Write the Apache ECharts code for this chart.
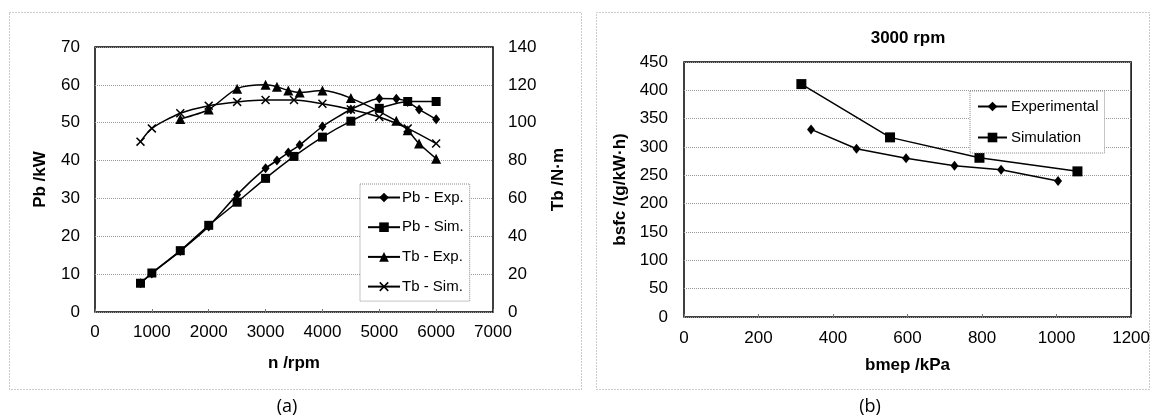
<!DOCTYPE html>
<html>
<head>
<meta charset="utf-8">
<script src="https://cdn.jsdelivr.net/npm/echarts@6/dist/echarts.min.js"></script>
<style>
  html, body { margin: 0; padding: 0; background: #fff; }
  #chart { width: 1153px; height: 418px; }
</style>
</head>
<body>
<div id="chart"></div>
<script>
// (a) 转速特性
const rpmPbExp = [800, 1000, 1500, 2000, 2500, 3000, 3200, 3400, 3600, 4000, 4500, 5000, 5300, 5500, 5700, 6000]
const pbExp = [7.6, 10.2, 16.1, 22.6, 31, 38, 40, 42.1, 44.1, 49, 53.5, 56.4, 56.3, 55.5, 53.5, 50.9]
const rpmPbSim = [800, 1000, 1500, 2000, 2500, 3000, 3500, 4000, 4500, 5000, 5500, 6000]
const pbSim = [7.6, 10.3, 16.2, 22.9, 29, 35.3, 41.1, 46.2, 50.4, 53.8, 55.6, 55.6]
const rpmTbExp = [1500, 2000, 2500, 3000, 3200, 3400, 3600, 4000, 4500, 5300, 5500, 5700, 6000]
const tbExp = [102, 107, 118, 120, 119, 117, 116, 117, 113, 101, 96, 89, 81]
const rpmTbSim = [800, 1000, 1500, 2000, 2500, 3000, 3500, 4000, 4500, 5000, 5500, 6000]
const tbSim = [90, 97, 105, 109, 111, 112, 112, 110, 107, 103, 97, 89]

// (b) 3000 rpm 负荷特性
const bmepExp = [341, 463, 596, 726, 851, 1004]
const bsfcExp = [331, 297, 280, 267, 260, 240]
const bmepSim = [315, 553, 793, 1056]
const bsfcSim = [411, 317, 281, 257]

const namesA = ['Pb - Exp.', 'Pb - Sim.', 'Tb - Exp.', 'Tb - Sim.']
const namesB = ['Experimental', 'Simulation']

const FONT = '"Liberation Sans", Arial, sans-serif'
const crossPath = 'path://M0,1.2L1.2,0L5,3.8L8.8,0L10,1.2L6.2,5L10,8.8L8.8,10L5,6.2L1.2,10L0,8.8L3.8,5Z'

const zip = (xs, ys) => xs.map((x, i) => [x, ys[i]])

const myChart = echarts.init(document.getElementById('chart'))

// 不要千位分隔符
const labelStyle = { color: '#000', fontSize: 17, fontFamily: FONT, formatter: (v) => String(v) }
const nameStyle = { color: '#000', fontSize: 17, fontWeight: 'bold', fontFamily: FONT }
const splitStyle = { show: true, lineStyle: { color: '#999', type: 'dotted', width: 1 } }
const tickIn = { show: true, inside: true, length: 3, lineStyle: { color: '#777' } }

const lineSeries = (name, data, symbol, size, xi, yi, smooth) => ({
  name,
  type: 'line',
  xAxisIndex: xi,
  yAxisIndex: yi,
  data,
  symbol,
  symbolSize: size,
  smooth: smooth,
  showAllSymbol: true,
  lineStyle: { color: '#000', width: 1.5 },
  itemStyle: { color: '#000' },
  emphasis: { disabled: true },
  z: 3
})

const option = {
  backgroundColor: '#fff',
  animation: false,
  graphic: [
    // 外框
    { type: 'rect', shape: { x: 9.5, y: 12.5, width: 572, height: 377 }, style: { fill: 'none', stroke: '#999', lineWidth: 1, lineDash: [1, 2] }, silent: true },
    { type: 'rect', shape: { x: 596.5, y: 12.5, width: 553, height: 377 }, style: { fill: 'none', stroke: '#999', lineWidth: 1, lineDash: [1, 2] }, silent: true },
    { type: 'text', x: 908, y: 38, style: { text: '3000 rpm', textAlign: 'center', textVerticalAlign: 'middle', font: 'bold 17px ' + FONT, fill: '#000' } },
    { type: 'text', x: 287, y: 407, style: { text: '(a)', textAlign: 'center', textVerticalAlign: 'middle', font: '18px "Open Sans", sans-serif', fill: '#000' } },
    { type: 'text', x: 870, y: 407, style: { text: '(b)', textAlign: 'center', textVerticalAlign: 'middle', font: '18px "Open Sans", sans-serif', fill: '#000' } }
  ],
  grid: [
    { left: 95, top: 47, width: 398, height: 265, show: true, borderColor: '#000', borderWidth: 1.5, backgroundColor: 'transparent' },
    { left: 684, top: 62, width: 448, height: 255, show: true, borderColor: '#000', borderWidth: 1.5, backgroundColor: 'transparent' }
  ],
  legend: [
    {
      data: namesA,
      orient: 'vertical',
      left: 360,
      top: 184,
      padding: [6, 6, 7, 7],
      itemWidth: 32,
      itemHeight: 12,
      itemGap: 14.7,
      backgroundColor: '#fff',
      borderColor: '#888',
      borderWidth: 1,
      borderType: 'dotted',
      textStyle: { color: '#000', fontSize: 15, fontFamily: FONT, padding: [0, 0, 0, -3] },
      selectedMode: false
    },
    {
      data: namesB,
      orient: 'vertical',
      left: 970,
      top: 91,
      padding: [8, 6, 8, 7],
      itemWidth: 29,
      itemHeight: 12,
      itemGap: 16,
      backgroundColor: '#fff',
      borderColor: '#888',
      borderWidth: 1,
      borderType: 'dotted',
      textStyle: { color: '#000', fontSize: 15, fontFamily: FONT, padding: [0, 0, 0, -1] },
      selectedMode: false
    }
  ],
  xAxis: [
    {
      type: 'value', gridIndex: 0, min: 0, max: 7000, interval: 1000,
      name: 'n /rpm', nameLocation: 'middle', nameGap: 43, nameTextStyle: nameStyle,
      axisLine: { show: false }, axisTick: tickIn, splitLine: { show: false },
      axisLabel: Object.assign({ margin: 12 }, labelStyle)
    },
    {
      type: 'value', gridIndex: 1, min: 0, max: 1200, interval: 200,
      name: 'bmep /kPa', nameLocation: 'middle', nameGap: 40, nameTextStyle: nameStyle,
      axisLine: { show: false }, axisTick: tickIn, splitLine: { show: false },
      axisLabel: Object.assign({ margin: 13 }, labelStyle)
    }
  ],
  yAxis: [
    {
      type: 'value', gridIndex: 0, min: 0, max: 70, interval: 10, position: 'left',
      name: 'Pb /kW', nameLocation: 'middle', nameRotate: 90, nameGap: 46, nameTextStyle: nameStyle,
      axisLine: { show: false }, axisTick: { show: false }, splitLine: splitStyle,
      axisLabel: Object.assign({ margin: 15 }, labelStyle)
    },
    {
      type: 'value', gridIndex: 0, min: 0, max: 140, interval: 20, position: 'right',
      name: 'Tb /N·m', nameLocation: 'middle', nameRotate: 90, nameGap: 57, nameTextStyle: nameStyle,
      axisLine: { show: false }, axisTick: { show: false }, splitLine: { show: false },
      axisLabel: Object.assign({ margin: 15 }, labelStyle)
    },
    {
      type: 'value', gridIndex: 1, min: 0, max: 450, interval: 50,
      name: 'bsfc /(g/kW·h)', nameLocation: 'middle', nameRotate: 90, nameGap: 55, nameTextStyle: nameStyle,
      axisLine: { show: false }, axisTick: { show: false }, splitLine: splitStyle,
      axisLabel: Object.assign({ margin: 16 }, labelStyle)
    }
  ],
  series: [
    lineSeries(namesA[0], zip(rpmPbExp, pbExp), 'diamond', [8, 10], 0, 0, 0.2),
    lineSeries(namesA[1], zip(rpmPbSim, pbSim), 'rect', 9, 0, 0, 0.2),
    lineSeries(namesA[2], zip(rpmTbExp, tbExp), 'triangle', 10, 0, 1, 0.25),
    lineSeries(namesA[3], zip(rpmTbSim, tbSim), crossPath, 9, 0, 1, 0.25),
    lineSeries(namesB[0], zip(bmepExp, bsfcExp), 'diamond', [8, 10], 1, 2, false),
    lineSeries(namesB[1], zip(bmepSim, bsfcSim), 'rect', 10, 1, 2, false)
  ]
}

myChart.setOption(option)
window.addEventListener('resize', myChart.resize)
</script>
</body>
</html>
